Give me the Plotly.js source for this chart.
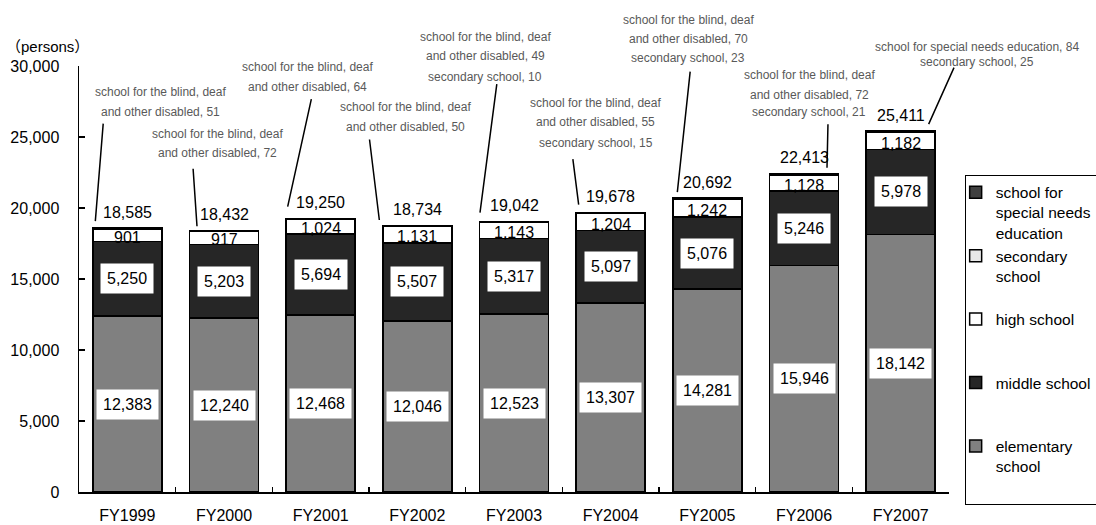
<!DOCTYPE html>
<html><head><meta charset="utf-8">
<script src="https://cdn.plot.ly/plotly-3.0.1.min.js"></script>
<style>html,body{margin:0;padding:0;background:#fff}</style>
</head><body>
<div id="chart" style="width:1096px;height:525px"></div>
<script>
// ---- data ----
const years = ['FY1999','FY2000','FY2001','FY2002','FY2003','FY2004','FY2005','FY2006','FY2007'];
const elementary = [12383, 12240, 12468, 12046, 12523, 13307, 14281, 15946, 18142];
const middle = [5250, 5203, 5694, 5507, 5317, 5097, 5076, 5246, 5978];
const high = [901, 917, 1024, 1131, 1143, 1204, 1242, 1128, 1182];
const secondary = [0, 0, 0, 0, 10, 15, 23, 21, 25];
const special = [51, 72, 64, 50, 49, 55, 70, 72, 84];
const totals = [18585, 18432, 19250, 18734, 19042, 19678, 20692, 22413, 25411];
const noteLines = [
  ['school for the blind, deaf', 'and other disabled, 51'],
  ['school for the blind, deaf', 'and other disabled, 72'],
  ['school for the blind, deaf', 'and other disabled, 64'],
  ['school for the blind, deaf', 'and other disabled, 50'],
  ['school for the blind, deaf', 'and other disabled, 49', 'secondary school, 10'],
  ['school for the blind, deaf', 'and other disabled, 55', 'secondary school, 15'],
  ['school for the blind, deaf', 'and other disabled, 70', 'secondary school, 23'],
  ['school for the blind, deaf', 'and other disabled, 72', 'secondary school, 21'],
  ['school for special needs education, 84', 'secondary school, 25']
];
const yUnit = '（persons）';

// ---- styling: label placement offsets (pixels, relative to bar top centre) ----
const noteStyle = [
  {dx: 33, ys: [136, 116]},
  {dx: -7, ys: [96, 77]},
  {dx: -13, ys: [152, 132]},
  {dx: -12, ys: [119, 99]},
  {dx: -29, ys: [185, 166, 145]},
  {dx: -15, ys: [110, 91, 70]},
  {dx: -19, ys: [178, 159, 140]},
  {dx: 5, ys: [99, 79, 62]},
  {dx: 76, ys: [84, 69]}
];
const leaderStyle = [
  {hx: -32, hy: 7, ax: 8, ay: -99},
  {hx: -27, hy: 4, ax: -4, ay: -59},
  {hx: -33, hy: 12, ax: 24, ay: -109},
  {hx: -38, hy: 6, ax: -10, ay: -82},
  {hx: -34, hy: 9, ax: 17, ay: -130},
  {hx: -32, hy: 8, ax: -6, ay: -47},
  {hx: -30, hy: 6, ax: 13, ay: -122},
  {hx: 23, hy: 6, ax: 1, ay: -45},
  {hx: 28, hy: 7, ax: 26, ay: -58}
];

const FONT = 'Liberation Sans, Arial, "Noto Sans CJK JP", sans-serif';
const line = {color: '#000', width: 1.5};

const traces = [
  {name: 'elementary<br>school<br>&nbsp;', y: elementary, color: '#808080'},
  {name: 'middle school<br>&nbsp;<br>&nbsp;', y: middle, color: '#262626'},
  {name: 'high school<br>&nbsp;<br>&nbsp;', y: high, color: '#ffffff'},
  {name: 'secondary<br>school<br>&nbsp;', y: secondary, color: '#e8e8e8'},
  {name: 'school for<br>special needs<br>education', y: special, color: '#404040'}
].map(t => ({
  type: 'bar', x: years, y: t.y, name: t.name,
  marker: {color: t.color, line: line},
  hoverinfo: 'skip'
}));

const fmt = v => v.toLocaleString('en-US');
const ann = [];
years.forEach((yr, i) => {
  ann.push({x: yr, y: elementary[i] / 2, text: fmt(elementary[i]), showarrow: false,
    bgcolor: '#fff', borderpad: 6, font: {size: 16, color: '#000', family: FONT}});
  ann.push({x: yr, y: elementary[i] + middle[i] / 2, text: fmt(middle[i]), showarrow: false,
    bgcolor: '#fff', borderpad: 6, font: {size: 16, color: '#000', family: FONT}});
  ann.push({x: yr, y: elementary[i] + middle[i] + high[i] / 2, text: fmt(high[i]), showarrow: false,
    yshift: -2, font: {size: 16, color: '#000', family: FONT}});
  ann.push({x: yr, y: totals[i], text: fmt(totals[i]), showarrow: false, yshift: 16,
    font: {size: 16, color: '#000', family: FONT}});
  noteLines[i].forEach((t, k) => {
    ann.push({x: yr, y: totals[i], text: t, showarrow: false,
      xshift: noteStyle[i].dx, yshift: noteStyle[i].ys[k],
      font: {size: 12, color: '#595959', family: FONT}});
  });
  const L = leaderStyle[i];
  ann.push({x: yr, y: totals[i], text: '', showarrow: true, arrowhead: 0,
    arrowwidth: 1.5, arrowcolor: '#000', xshift: L.hx, yshift: L.hy,
    ax: L.ax, ay: L.ay, standoff: 0, startstandoff: 0});
});
ann.push({xref: 'paper', yref: 'paper', x: -0.086, y: 1, xanchor: 'left', yanchor: 'middle',
  yshift: 20, text: yUnit, showarrow: false, font: {size: 15, color: '#000', family: FONT}});

const layout = {
  width: 1096, height: 525,
  margin: {l: 79, r: 147, t: 66, b: 33, autoexpand: false},
  paper_bgcolor: '#fff', plot_bgcolor: '#fff',
  barmode: 'stack', bargap: 0.286,
  font: {family: FONT, color: '#000', size: 16},
  hovermode: false,
  xaxis: {
    type: 'category', range: [-0.5, 8.5], autorange: false, showgrid: false, zeroline: false,
    showline: true, linecolor: '#000', linewidth: 1.5,
    ticks: 'inside', tickson: 'boundaries', ticklen: 5, tickcolor: '#000', tickwidth: 1.5,
    tickfont: {size: 16, color: '#000', family: FONT}, ticklabelstandoff: 8
  },
  yaxis: {
    range: [0, 30000], autorange: false, dtick: 5000, tickformat: ',d', showgrid: false, zeroline: false,
    showline: true, linecolor: '#000', linewidth: 1.5,
    ticks: 'inside', ticklen: 6, tickcolor: '#000', tickwidth: 1.5,
    tickfont: {size: 16, color: '#000', family: FONT}, ticklabelstandoff: 15
  },
  legend: {
    x: 1.018, xanchor: 'left', y: 0.745, yanchor: 'top',
    bgcolor: '#fff', bordercolor: '#000', borderwidth: 1,
    font: {size: 15.5, color: '#000', family: FONT},
    traceorder: 'reversed', valign: 'top', itemwidth: 30, indentation: -10
  },
  annotations: ann
};

Plotly.newPlot('chart', traces, layout, {displayModeBar: false, staticPlot: true});
</script>
</body></html>
